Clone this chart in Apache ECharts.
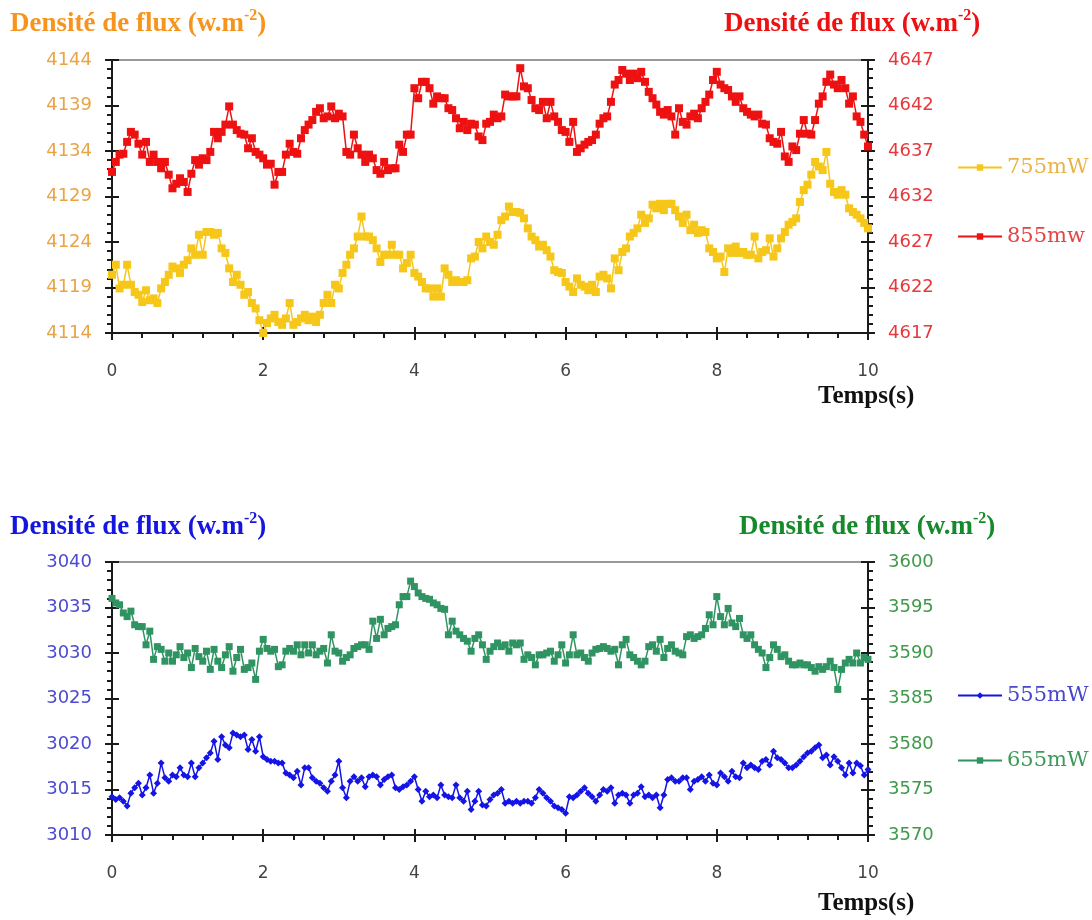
<!DOCTYPE html>
<html>
<head>
<meta charset="utf-8">
<script src="https://cdn.jsdelivr.net/npm/echarts@6/dist/echarts.min.js"></script>
<style>
html,body{margin:0;padding:0;background:#fff;}
#chart{width:1092px;height:920px;}
</style>
</head>
<body>
<div id="chart"></div>
<script>
// Sampling step of the time axis (s); point i is at time i*TIME_STEP
const TIME_STEP = 0.05;
const X_MIN = 0, X_MAX = 10, X_INTERVAL = 2;

// Top chart axes
const TOP_LEFT_RANGE = [4114, 4144];
const TOP_RIGHT_RANGE = [4617, 4647];
// Bottom chart axes
const BOT_LEFT_RANGE = [3010, 3040];
const BOT_RIGHT_RANGE = [3570, 3600];

const seriesNames = ['755mW', '855mw', '555mW', '655mW'];

// 755mW (left axis, top chart)
const s755 = [
4120.4,4121.5,4118.9,4119.3,4121.5,4119.3,4118.5,4118.2,4117.4,4118.7,4117.6,4117.8,4117.3,4118.9,4119.6,4120.4,4121.3,4121.1,4120.6,4121.5,
4122.0,4123.3,4122.6,4124.8,4122.6,4125.1,4125.1,4124.8,4125.0,4123.3,4122.8,4121.1,4119.6,4120.4,4119.3,4118.2,4118.5,4117.3,4116.7,4115.4,
4114.0,4115.1,4115.6,4116.0,4115.2,4114.9,4115.6,4117.3,4114.9,4115.2,4115.6,4116.0,4115.4,4115.8,4115.2,4116.0,4117.3,4118.2,4117.3,4119.3,
4118.9,4120.6,4121.5,4122.6,4123.3,4124.6,4126.8,4124.6,4124.6,4124.2,4123.3,4121.8,4122.6,4122.6,4123.7,4122.6,4122.6,4121.1,4121.7,4122.6,
4120.6,4120.2,4119.6,4118.9,4118.9,4118.0,4118.9,4118.0,4121.1,4120.4,4119.6,4119.8,4119.6,4119.6,4119.8,4122.2,4122.4,4124.0,4123.3,4124.6,
4124.0,4123.7,4124.8,4126.4,4126.8,4127.9,4127.3,4127.3,4127.2,4126.6,4125.5,4124.6,4124.2,4123.5,4123.7,4123.1,4122.4,4120.9,4120.7,4120.6,
4119.6,4119.1,4118.5,4120.0,4119.3,4119.1,4118.7,4119.3,4118.5,4120.2,4120.4,4120.0,4118.9,4122.2,4120.9,4122.9,4123.3,4124.6,4125.0,4125.5,
4127.0,4126.1,4126.6,4128.1,4127.7,4128.2,4127.5,4128.2,4128.2,4127.5,4126.8,4126.1,4127.0,4125.3,4125.9,4125.0,4125.3,4125.1,4123.3,4122.9,
4122.2,4122.4,4120.7,4123.3,4122.8,4123.5,4122.8,4122.9,4122.6,4122.6,4124.6,4122.2,4122.9,4123.1,4124.4,4122.4,4123.3,4124.4,4125.1,4125.9,
4126.2,4126.6,4128.4,4129.7,4130.3,4131.4,4132.8,4132.3,4131.9,4133.9,4130.4,4129.5,4129.2,4129.7,4129.2,4127.7,4127.3,4127.0,4126.6,4126.1,
4125.5];

// 855mw (right axis, top chart)
const s855 = [
4634.7,4635.8,4636.6,4636.7,4638.0,4639.1,4638.8,4637.8,4636.6,4638.0,4635.8,4636.6,4635.8,4635.1,4635.8,4634.4,4632.9,4633.4,4634.0,4633.6,
4632.5,4634.5,4636.0,4635.5,4636.2,4636.0,4636.9,4639.1,4638.4,4639.1,4639.9,4641.9,4639.9,4639.3,4638.9,4638.8,4637.3,4638.4,4636.9,4636.6,
4636.2,4635.5,4635.6,4633.3,4634.7,4634.7,4636.6,4637.8,4636.9,4636.7,4638.4,4639.3,4639.9,4640.4,4641.3,4641.7,4640.6,4640.8,4641.9,4640.6,
4641.1,4640.8,4636.9,4636.6,4638.8,4637.3,4636.6,4635.8,4636.6,4636.2,4634.9,4634.5,4635.8,4634.9,4635.1,4635.1,4637.7,4636.9,4638.8,4638.8,
4643.9,4642.8,4644.6,4644.6,4643.9,4642.2,4643.0,4642.8,4642.8,4641.7,4641.5,4640.6,4639.5,4640.2,4639.3,4640.0,4639.9,4638.6,4638.2,4640.0,
4640.2,4641.0,4640.6,4640.8,4643.2,4643.0,4643.0,4643.0,4646.1,4644.1,4643.9,4642.6,4641.7,4641.5,4642.4,4640.6,4642.4,4640.8,4640.2,4639.3,
4639.1,4638.0,4640.2,4636.9,4637.3,4637.7,4638.0,4638.2,4638.8,4640.0,4640.6,4640.8,4642.4,4644.3,4644.8,4645.9,4645.5,4644.8,4645.5,4645.0,
4645.7,4644.6,4643.5,4642.8,4642.1,4641.3,4641.0,4641.5,4640.8,4638.8,4641.7,4640.2,4639.9,4640.8,4641.1,4640.6,4641.7,4642.4,4643.2,4644.8,
4645.7,4644.3,4643.9,4643.7,4643.0,4642.4,4643.0,4641.7,4641.3,4641.0,4640.8,4641.0,4640.0,4639.9,4638.4,4638.0,4637.8,4639.1,4636.4,4635.8,
4637.5,4637.1,4638.9,4640.4,4638.9,4638.8,4640.4,4642.2,4643.0,4644.6,4645.4,4644.3,4643.9,4644.8,4643.9,4642.2,4643.0,4640.8,4640.2,4638.8,
4637.5];

// 555mW (left axis, bottom chart)
const s555 = [
3014.2,3013.9,3014.1,3013.7,3013.2,3014.6,3015.2,3015.7,3014.4,3015.2,3016.6,3014.6,3015.7,3017.9,3016.3,3015.9,3016.6,3016.4,3017.4,3016.6,
3016.4,3017.9,3016.4,3017.4,3017.9,3018.5,3019.0,3020.3,3018.3,3020.8,3019.9,3019.6,3021.2,3021.0,3020.8,3021.0,3019.4,3020.5,3019.2,3020.8,
3018.6,3018.3,3018.1,3018.1,3017.9,3017.9,3016.8,3016.6,3016.3,3017.0,3015.5,3017.4,3017.4,3016.3,3015.9,3015.7,3015.2,3014.8,3015.9,3016.6,
3018.1,3015.2,3014.1,3015.9,3016.4,3015.9,3016.3,3015.3,3016.4,3016.6,3016.4,3015.5,3016.1,3016.4,3016.6,3015.2,3015.0,3015.3,3015.5,3015.9,
3016.4,3015.0,3013.7,3014.8,3014.2,3014.4,3014.1,3015.5,3014.4,3014.2,3014.1,3015.5,3014.1,3013.7,3014.8,3012.8,3013.7,3014.8,3013.3,3013.2,
3013.9,3014.4,3014.6,3015.0,3013.5,3013.7,3013.5,3013.7,3013.5,3013.7,3013.7,3013.5,3014.1,3015.0,3014.6,3014.1,3013.7,3013.2,3013.0,3012.8,
3012.4,3014.2,3014.1,3014.4,3014.8,3015.2,3014.6,3014.2,3013.7,3014.4,3015.0,3014.8,3015.2,3013.5,3014.4,3014.6,3014.4,3013.5,3014.4,3014.6,
3015.3,3014.2,3014.4,3014.1,3014.4,3013.0,3014.4,3016.1,3016.3,3015.9,3015.9,3016.3,3016.3,3015.0,3015.9,3016.1,3016.4,3015.9,3016.6,3015.7,
3015.5,3016.8,3016.4,3015.9,3017.0,3016.4,3016.3,3017.9,3017.4,3017.7,3017.4,3017.2,3018.1,3018.3,3017.7,3019.2,3018.5,3018.3,3017.9,3017.4,
3017.4,3017.7,3018.1,3018.6,3019.0,3019.2,3019.6,3019.9,3018.5,3018.8,3017.7,3018.6,3018.1,3017.4,3016.6,3017.9,3016.8,3017.9,3017.6,3016.6,
3017.2];

// 655mW (right axis, bottom chart)
const s655 = [
3596.0,3595.5,3595.3,3594.4,3594.0,3594.6,3593.1,3592.9,3592.9,3590.9,3592.4,3589.3,3590.7,3590.4,3589.1,3590.0,3589.1,3589.8,3590.7,3589.5,
3590.0,3588.4,3590.5,3589.6,3589.1,3590.2,3588.2,3590.4,3589.1,3588.4,3589.8,3590.7,3588.0,3589.5,3590.4,3588.2,3588.4,3588.9,3587.1,3590.2,
3591.5,3590.5,3590.2,3590.4,3588.5,3588.7,3590.2,3590.5,3590.2,3590.9,3589.8,3590.9,3590.0,3590.9,3589.8,3590.2,3590.5,3588.9,3592.0,3590.2,
3590.0,3589.1,3589.5,3589.8,3590.5,3590.7,3590.9,3590.9,3590.4,3593.5,3591.6,3593.7,3592.0,3592.7,3592.9,3593.1,3595.3,3596.2,3596.2,3597.9,
3597.3,3596.6,3596.2,3596.0,3595.9,3595.5,3595.3,3594.9,3594.8,3592.0,3593.5,3592.4,3592.0,3591.6,3591.3,3590.2,3591.6,3592.0,3590.9,3589.3,
3590.2,3590.7,3591.1,3590.7,3590.9,3590.2,3591.1,3590.9,3591.1,3589.3,3589.8,3589.5,3588.7,3589.8,3589.8,3590.0,3590.2,3589.1,3589.8,3590.9,
3588.9,3589.8,3592.0,3589.8,3590.0,3589.5,3589.1,3590.0,3590.4,3590.5,3590.7,3590.5,3590.2,3590.4,3588.7,3590.9,3591.5,3589.8,3589.5,3589.1,
3588.7,3589.1,3590.7,3590.9,3590.2,3591.5,3589.5,3590.5,3590.9,3590.2,3590.0,3589.8,3591.8,3592.0,3591.6,3591.8,3592.0,3592.7,3594.2,3593.1,
3596.2,3594.0,3593.1,3594.9,3593.3,3592.9,3593.8,3592.0,3591.6,3592.0,3590.9,3590.4,3590.0,3588.4,3589.5,3590.9,3590.4,3589.6,3589.8,3589.1,
3588.7,3588.7,3588.9,3588.7,3588.7,3588.4,3588.0,3588.5,3588.2,3588.5,3589.1,3588.4,3586.0,3588.2,3588.9,3589.3,3588.9,3590.0,3588.9,3589.5,
3589.3];

const yTitle = 'Densité de flux (w.m';
const ySup = '-2';
const xTitle = 'Temps(s)';

function toPairs(arr) {
  return arr.map((v, i) => [Math.round(i * TIME_STEP * 100) / 100, v]);
}

const TICK_FONT = 'DejaVu Sans';
const SERIF = 'Liberation Serif';
const AX = '#1a1a1a';
const plainNum = v => String(v);

function xAxisMain(gridIndex) {
  return {
    type: 'value', gridIndex, min: X_MIN, max: X_MAX, interval: X_INTERVAL,
    position: 'bottom',
    axisLine: { show: true, onZero: false, lineStyle: { color: AX, width: 2 } },
    axisTick: { show: true, length: 7, lineStyle: { color: AX, width: 2 } },
    minorTick: { show: true, splitNumber: 5, length: 5, lineStyle: { color: AX, width: 2 } },
    splitLine: { show: false },
    axisLabel: { show: true, color: '#444', fontFamily: TICK_FONT, fontSize: 17, margin: 30, formatter: plainNum }
  };
}
function xAxisInner(gridIndex) {
  return {
    type: 'value', gridIndex, min: X_MIN, max: X_MAX, interval: X_INTERVAL,
    position: 'bottom',
    axisLine: { show: false, onZero: false },
    axisTick: { show: true, inside: true, length: 6, lineStyle: { color: AX, width: 2 } },
    splitLine: { show: false }, axisLabel: { show: false }
  };
}
function yAxisMain(gridIndex, range, pos, color) {
  return {
    type: 'value', gridIndex, min: range[0], max: range[1], interval: 5,
    position: pos,
    axisLine: { show: true, onZero: false, lineStyle: { color: AX, width: 2 } },
    axisTick: { show: true, length: 7, lineStyle: { color: AX, width: 2 } },
    minorTick: { show: true, splitNumber: 5, length: 5, lineStyle: { color: AX, width: 2 } },
    splitLine: { show: false },
    axisLabel: { show: true, color, fontFamily: TICK_FONT, fontSize: 18, margin: 20, formatter: plainNum }
  };
}
function yAxisInner(gridIndex, range, pos) {
  return {
    type: 'value', gridIndex, min: range[0], max: range[1], interval: 5,
    position: pos,
    axisLine: { show: false, onZero: false },
    axisTick: { show: true, inside: true, length: 7, lineStyle: { color: AX, width: 2 } },
    splitLine: { show: false }, axisLabel: { show: false }
  };
}

function titleText(left, top, color) {
  return {
    type: 'text', left, top,
    style: {
      text: '{a|' + yTitle + '}{s|' + ySup + '}{a|)}',
      rich: {
        a: { fontFamily: SERIF, fontWeight: 'bold', fontSize: 27, lineHeight: 30, fill: color, verticalAlign: 'bottom' },
        s: { fontFamily: SERIF, fontWeight: 'bold', fontSize: 16, lineHeight: 24, fill: color, verticalAlign: 'top' }
      }
    }
  };
}
function xTitleText(left, top) {
  return {
    type: 'text', left, top,
    style: { text: xTitle, fontFamily: SERIF, fontWeight: 'bold', fontSize: 25, fill: '#111' }
  };
}

const chart = echarts.init(document.getElementById('chart'), null, { renderer: 'canvas' });

const option = {
  animation: false,
  backgroundColor: '#fff',
  grid: [
    { left: 112, top: 60, width: 756, height: 273, show: true, borderColor: '#999', borderWidth: 2, backgroundColor: 'transparent' },
    { left: 112, top: 562, width: 756, height: 273, show: true, borderColor: '#999', borderWidth: 2, backgroundColor: 'transparent' }
  ],
  xAxis: [xAxisMain(0), xAxisMain(1), xAxisInner(0), xAxisInner(1)],
  yAxis: [
    yAxisMain(0, TOP_LEFT_RANGE, 'left', '#e9a445'),
    yAxisMain(0, TOP_RIGHT_RANGE, 'right', '#e8383c'),
    yAxisMain(1, BOT_LEFT_RANGE, 'left', '#4b4bd2'),
    yAxisMain(1, BOT_RIGHT_RANGE, 'right', '#3f9a4a'),
    yAxisInner(0, TOP_LEFT_RANGE, 'left'),
    yAxisInner(0, TOP_RIGHT_RANGE, 'right'),
    yAxisInner(1, BOT_LEFT_RANGE, 'left'),
    yAxisInner(1, BOT_RIGHT_RANGE, 'right')
  ],
  legend: [
    {
      orient: 'vertical', left: 952, top: 152, itemWidth: 44, itemHeight: 8, itemGap: 48,
      textStyle: { fontFamily: 'DejaVu Serif', fontSize: 21 },
      data: [
        { name: seriesNames[0], textStyle: { color: '#e8b44a' } },
        { name: seriesNames[1], textStyle: { color: '#e24545' } }
      ]
    },
    {
      orient: 'vertical', left: 952, top: 680, itemWidth: 44, itemHeight: 8, itemGap: 44,
      textStyle: { fontFamily: 'DejaVu Serif', fontSize: 21 },
      data: [
        { name: seriesNames[2], textStyle: { color: '#4747cc' } },
        { name: seriesNames[3], textStyle: { color: '#3f9a5a' } }
      ]
    }
  ],
  graphic: [
    titleText(10, 8, '#f7941d'),
    titleText(724, 8, '#ee1111'),
    titleText(10, 511, '#1515e0'),
    titleText(739, 511, '#168a2a'),
    xTitleText(818, 384),
    xTitleText(818, 891)
  ],
  series: [
    {
      name: seriesNames[0], type: 'line', xAxisIndex: 0, yAxisIndex: 0,
      data: toPairs(s755), symbol: 'rect', symbolSize: 8, showSymbol: true,
      color: '#f6c619', lineStyle: { width: 1.5, color: '#f6c619' }, itemStyle: { color: '#f6c619' }
    },
    {
      name: seriesNames[1], type: 'line', xAxisIndex: 0, yAxisIndex: 1,
      data: toPairs(s855), symbol: 'rect', symbolSize: 8, showSymbol: true,
      color: '#ee1111', lineStyle: { width: 1.5, color: '#ee1111' }, itemStyle: { color: '#ee1111' }
    },
    {
      name: seriesNames[2], type: 'line', xAxisIndex: 1, yAxisIndex: 2,
      data: toPairs(s555), symbol: 'diamond', symbolSize: 7, showSymbol: true,
      color: '#1414e6', lineStyle: { width: 1.5, color: '#1414e6' }, itemStyle: { color: '#1414e6' }
    },
    {
      name: seriesNames[3], type: 'line', xAxisIndex: 1, yAxisIndex: 3,
      data: toPairs(s655), symbol: 'rect', symbolSize: 7, showSymbol: true,
      color: '#2f9462', lineStyle: { width: 1.5, color: '#2f9462' }, itemStyle: { color: '#2f9462' }
    }
  ]
};
chart.setOption(option);
</script>
</body>
</html>
